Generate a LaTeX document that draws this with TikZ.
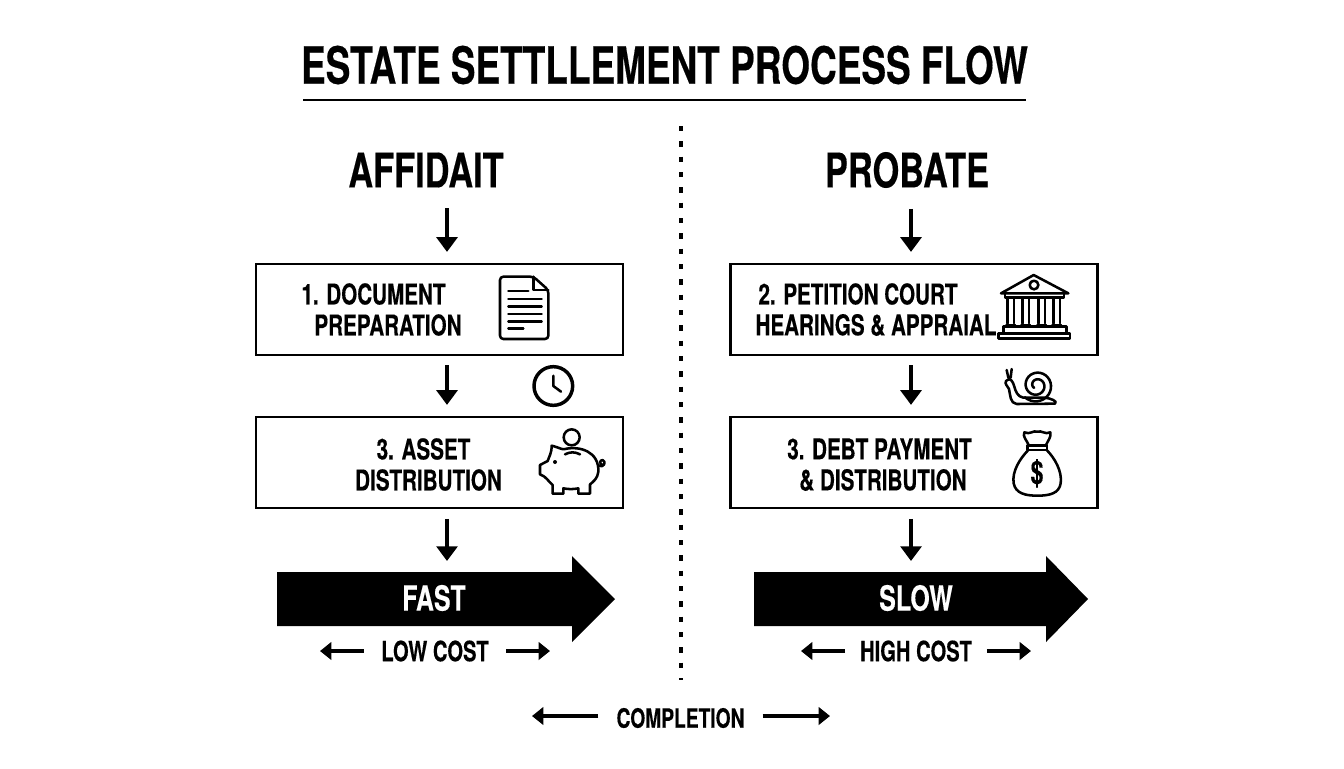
\documentclass[tikz,border=0pt]{standalone}
\usepackage{fontspec}
\usetikzlibrary{arrows.meta,calc}
\setmainfont[FakeStretch=0.72,BoldFeatures={FakeBold=0.3}]{TeX Gyre Heros}
\tikzset{
  boxtext/.style={font=\fontsize{21.5}{24}\selectfont\bfseries,inner sep=0pt},
  stepbox/.style={draw,line width=1.9pt,minimum width=275.5pt,minimum height=68.5pt,inner sep=0pt},
  headtext/.style={font=\fontsize{35.8}{38}\selectfont\bfseries,inner sep=0pt},
  arrowtext/.style={font=\fontsize{26}{28}\selectfont\bfseries,text=white,inner sep=0pt},
  costtext/.style={font=\fontsize{21}{23}\selectfont\bfseries,inner xsep=11pt,inner ysep=0pt},
  flowarrow/.style={-{Triangle[width=15.5pt,length=11pt]},line width=3pt},
  sidearrow/.style={-{Triangle[width=13pt,length=8.5pt]},line width=2.8pt},
  iconline/.style={line width=1.9pt,line join=round,line cap=round},
}
\begin{document}
\begin{tikzpicture}[x=0.75pt,y=-0.75pt]
     \useasboundingbox (0,0) rectangle (1344,768);

     % title
     \node[font=\fontsize{38.5}{42}\selectfont\bfseries,inner sep=0pt] (title) at (664.5,65) {ESTATE SETTLLEMENT PROCESS FLOW};
     \draw[line width=2pt] (303,100) -- (1026,100);
     \draw[line width=3pt,dash pattern=on 4pt off 7.5pt] (681,126) -- (681,680);

     \node[headtext] (affidait) at (426,170) {AFFIDAIT};
     \node[headtext] (probate) at (907,170) {PROBATE};

     % boxes
     \node[stepbox] (docbox) at (439.5,309.5) {};
     \node[stepbox] (assetbox) at (439.5,462.5) {};
     \node[stepbox] (courtbox) at (914,309.5) {};
     \node[stepbox] (debtbox) at (914,462.5) {};

     \node[boxtext] (docline) at (373.5,294) {1. DOCUMENT};
     \node[boxtext] (prepline) at (388,325) {PREPARATION};
     \node[boxtext] (assetline) at (423.5,449) {3. ASSET};
     \node[boxtext] (distline) at (428.5,480) {DISTRIBUTION};
     \node[boxtext] (courtline) at (858,294) {2. PETITION COURT};
     \node[boxtext] (hearline) at (876,325) {HEARINGS \& APPRAIAL};
     \node[boxtext] (debtline) at (879.5,449) {3. DEBT PAYMENT};
     \node[boxtext] (payline) at (883,480) {\& DISTRIBUTION};

     % big arrows
     \foreach \xa/\xb/\xc in {277/572/615,754/1046/1088} {
     	\fill (\xa,572) -- (\xb,572) -- (\xb,556) -- (\xc,599) -- (\xb,642) -- (\xb,626) -- (\xa,626) -- cycle;
     }
     \node[arrowtext] (fast) at (434,598) {FAST};
     \node[arrowtext] (slow) at (916,598) {SLOW};

     % flow arrows
     \coordinate (leftaxis) at (447,0);
     \coordinate (rightaxis) at (911,0);
     \coordinate (fasthead) at (447,561);
     \coordinate (slowhead) at (911,561);
     \draw[flowarrow,shorten <=15.5pt,shorten >=8pt] (affidait.south -| leftaxis) -- (docbox.north -| leftaxis);
     \draw[flowarrow,shorten <=6.5pt,shorten >=8pt] (docbox.south -| leftaxis) -- (assetbox.north -| leftaxis);
     \draw[flowarrow,shorten <=7pt] (assetbox.south -| leftaxis) -- (fasthead);
     \draw[flowarrow,shorten <=15.5pt,shorten >=8pt] (probate.south -| rightaxis) -- (courtbox.north -| rightaxis);
     \draw[flowarrow,shorten <=6.5pt,shorten >=8pt] (courtbox.south -| rightaxis) -- (debtbox.north -| rightaxis);
     \draw[flowarrow,shorten <=7pt] (debtbox.south -| rightaxis) -- (slowhead);

     % cost and completion
     \node[costtext,inner xsep=13pt] (lowcost) at (435,651) {LOW COST};
     \node[costtext] (highcost) at (916,651) {HIGH COST};
     \node[costtext,inner xsep=13.5pt,font=\fontsize{20}{22}\selectfont\bfseries] (completion) at (680.5,718) {COMPLETION};
     \coordinate (lowl) at (320,651);
     \coordinate (lowr) at (550,651);
     \coordinate (highl) at (801,651);
     \coordinate (highr) at (1031,651);
     \coordinate (compl) at (532,716);
     \coordinate (compr) at (830,716);
     \draw[sidearrow] (lowcost) -- (lowl);
     \draw[sidearrow] (lowcost) -- (lowr);
     \draw[sidearrow] (highcost) -- (highl);
     \draw[sidearrow] (highcost) -- (highr);
     \draw[sidearrow] (completion.west |- compl) -- (compl);
     \draw[sidearrow] (completion.east |- compr) -- (compr);

     % icons, left side
     \begin{scope}[shift={(250,255)},x=0.25pt,y=-0.25pt,iconline]
     	\draw[rounded corners=2.5pt] (850,65) -- (750,65) -- (750,252) -- (895,252) -- (895,105) -- cycle;
     	\draw (850,65) -- (850,105) -- (895,105);
     	\draw (775,108) -- (835,108);
     	\foreach \y in {132,155,177,199} {
     		\draw (775,\y) -- (875,\y);
     	}
     	\draw (775,220) -- (820,220);
     	% clock
     	\draw[line width=2.6pt] (910,393) circle [radius=58];
     	\draw (910,362) -- (910,393) -- (933,410);
     	% pig
     	\draw (965,547) circle [radius=24];
     	\draw (905,572) .. controls (930,578) and (935,585) .. (945,582) .. controls (990,572) and (1048,590) .. (1045,650)
     	.. controls (1043,670) and (1030,680) .. (1020,688) -- (1020,716) -- (985,716) -- (985,700) .. controls (970,703) and (955,703) .. (940,700)
     	-- (940,716) -- (908,716) -- (908,690) .. controls (895,680) and (890,665) .. (870,658) -- (870,630) -- (893,618) .. controls (897,605) and (905,595) .. (905,572) -- cycle;
     	\draw (1045,632) .. controls (1062,640) and (1070,620) .. (1058,615) .. controls (1048,615) and (1048,628) .. (1058,630);
     	\draw (945,598) .. controls (960,590) and (975,590) .. (990,598);
     	\fill (915,621) circle [radius=6];
     \end{scope}

     % icons, right side
     \begin{scope}[shift={(725,255)},x=0.25pt,y=-0.25pt,iconline]
     	% court
     	\draw (828,115) -- (926,60) -- (1030,115) -- cycle;
     	\draw (927,90) circle [radius=13];
     	\draw (840,115) -- (840,128) -- (1017,128) -- (1017,115);
     	\foreach \x in {847,892,940,985} {
     		\draw (\x,128) -- (\x,205) (\x+20,128) -- (\x+20,205);
     		\draw (\x-4,212) -- (\x+24,212);
     	}
     	\draw (835,235) -- (835,215) -- (1025,215) -- (1025,235);
     	\draw (820,235) rectangle (1035,250);
     	% snail
     	\draw plot[smooth,domain=135:855,samples=60] ({935+(3+\x/18)*cos(\x)},{391+(3+\x/18)*sin(\x)});
     	\draw (843,378) .. controls (855,366) and (862,375) .. (868,395) .. controls (872,410) and (878,425) .. (895,428) -- (960,428)
     	.. controls (975,430) and (1000,438) .. (990,446) -- (875,447) .. controls (855,445) and (856,420) .. (852,402) .. controls (848,392) and (838,388) .. (843,378) -- cycle;
     	\draw (845,345) -- (850,368) (860,342) -- (857,368);
     	% money bag
     	\draw (912,572) .. controls (905,555) and (892,545) .. (898,532) .. controls (915,540) and (925,525) .. (937,530) .. controls (950,525) and (960,540) .. (976,532) .. controls (980,545) and (968,558) .. (962,572) -- cycle;
     	\draw (908,572) -- (966,572) -- (966,585) -- (908,585) -- cycle;
     	\draw (910,585) .. controls (885,610) and (860,650) .. (866,685) .. controls (872,715) and (900,722) .. (937,722) .. controls (975,722) and (1002,715) .. (1007,685) .. controls (1012,650) and (990,610) .. (965,585);
     	\node[font=\fontsize{24}{26}\selectfont\bfseries,inner sep=0pt] (dollar) at (936,655) {\$};
     \end{scope}

\end{tikzpicture}
\end{document}
